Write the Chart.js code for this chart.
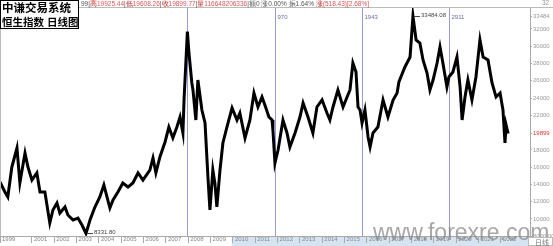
<!DOCTYPE html>
<html><head><meta charset="utf-8">
<script src="https://cdn.jsdelivr.net/npm/chart.js@4/dist/chart.umd.min.js"></script>
<style>html,body{margin:0;padding:0;background:#fff;overflow:hidden}#wrap{position:relative;width:553px;height:246px}</style>
</head><body><div id="wrap"><canvas id="c" width="553" height="246"></canvas></div>
<script>
const dates = [1999.57,1999.79,1999.92,2000.10,2000.33,2000.46,2000.69,2000.82,2001.00,2001.22,2001.36,2001.58,2001.80,2001.94,2002.12,2002.25,2002.48,2002.61,2002.84,2003.06,2003.24,2003.42,2003.60,2003.82,2004.04,2004.22,2004.36,2004.49,2004.63,2004.85,2005.07,2005.30,2005.52,2005.75,2005.97,2006.28,2006.42,2006.55,2006.73,2006.96,2007.13,2007.31,2007.49,2007.63,2007.76,2007.81,2007.96,2008.03,2008.16,2008.21,2008.34,2008.43,2008.61,2008.75,2008.88,2008.97,2009.10,2009.19,2009.28,2009.42,2009.55,2009.73,2009.96,2010.18,2010.31,2010.54,2010.76,2010.94,2011.12,2011.30,2011.43,2011.61,2011.75,2011.79,2011.88,2012.02,2012.24,2012.42,2012.55,2012.78,2013.00,2013.14,2013.36,2013.58,2013.76,2013.99,2014.21,2014.34,2014.48,2014.70,2014.93,2015.11,2015.24,2015.37,2015.51,2015.60,2015.69,2015.78,2015.91,2016.05,2016.14,2016.27,2016.49,2016.72,2016.94,2017.17,2017.35,2017.43,2017.70,2017.93,2018.06,2018.20,2018.37,2018.51,2018.69,2018.82,2018.96,2019.14,2019.27,2019.40,2019.58,2019.67,2019.85,2020.03,2020.17,2020.26,2020.39,2020.52,2020.70,2020.88,2021.06,2021.20,2021.42,2021.60,2021.78,2021.96,2022.09,2022.18,2022.23,2022.32];
const closes = [14280,13130,12550,16020,18220,14170,17640,16020,14510,15330,13130,13130,9540,11040,11850,10690,11390,10460,9880,10110,9300,8331.8,9880,11390,12550,13940,12550,11270,12200,13130,14170,13700,14170,15330,14510,15670,17060,15330,17180,18920,20650,19380,20650,21810,19960,23780,31700,29220,25750,24940,21460,26090,22620,21120,14860,11040,15670,14170,11390,15670,18800,20650,22850,21460,22270,19380,21460,24590,22970,24130,23200,21810,21460,20300,16480,17990,21460,19960,18340,19960,21810,23430,21810,19960,22970,23780,22270,21460,22970,24940,22970,24130,24940,28060,27020,22970,22620,21120,22620,19490,18340,19960,20650,23780,21810,23780,24590,25860,27600,28760,33484,30730,30380,28410,26900,24940,26090,28060,29920,28060,25280,26440,27020,28760,25280,21460,24130,26090,23780,26440,30730,28760,28410,25750,24130,24590,22620,18800,20880,19899.77];
const yearTicks = [1999.57,2001,2002,2003,2004,2005,2006,2007,2008,2009,2010,2011,2012,2013,2014,2015,2016,2017,2018,2019,2020,2021,2022];
const yearLabels = ['1999','2001','2002','2003','2004','2005','2006','2007','2008','2009','2010','2011','2012','2013','2014','2015','2016','2017','2018','2019','2020','2021','2022'];
const priceTicks = [8030,10000,12000,14000,16000,18000,19899.77,22000,24000,26000,28000,30000,32000,33484];
const priceLabels = ['8030.00','10000','12000','14000','16000','18000','19899','22000','24000','26000','28000','30000','32000','33484'];
const markerDates = [2007.96,2011.88,2015.79,2019.69];
const markerLabels = ['','970','1943','2911'];
const highLabel = {x:2018.06, y:33484, text:'33484.08'};
const lowLabel = {x:2003.42, y:8331.8, text:'8331.80'};
const headerParts = [['99|','#555'],['高','#b22'],['19925.44','#d55'],['|','#555'],['低','#b22'],['19608.26','#d55'],['|','#555'],['收','#b22'],['19899.77','#d55'],['|','#555'],['量','#b22'],['116648206336','#d55'],['|','#555'],['额0 ','#555'],['涨0.00% ','#555'],['振1.64% ','#555'],['涨','#b22'],['(518.43)[2.68%]','#d55']];

const deco = {
  id:'deco',
  beforeDraw(chart){
    const c = chart.ctx, a = chart.chartArea, x = chart.scales.x;
    c.save();
    c.fillStyle = '#fff'; c.fillRect(0,0,553,246);
    c.fillStyle = '#d6e4f2';
    c.fillRect(x.getPixelForValue(2009.95), a.bottom+1, 528 - x.getPixelForValue(2009.95), 9);
    c.restore();
  },
  beforeDatasetsDraw(chart){
    const c = chart.ctx, a = chart.chartArea, x = chart.scales.x;
    c.save();
    c.strokeStyle = '#9a9ad0'; c.lineWidth = 1;
    c.font = '6px "Liberation Sans"'; c.fillStyle = '#6a6aa8'; c.textBaseline='middle';
    markerDates.forEach((d,i)=>{
      const px = Math.round(x.getPixelForValue(d))+0.5;
      c.beginPath(); c.moveTo(px, a.top); c.lineTo(px, a.bottom); c.stroke();
      if (markerLabels[i]) c.fillText(markerLabels[i], px+2, 17);
    });
    c.restore();
  },
  afterDraw(chart){
    const c = chart.ctx, a = chart.chartArea, x = chart.scales.x, y = chart.scales.y;
    c.save();
    c.strokeStyle = '#bbb'; c.lineWidth = 1;
    c.beginPath(); c.moveTo(0, a.top-0.5); c.lineTo(553, a.top-0.5); c.stroke();
    c.beginPath(); c.moveTo(0.5, 0); c.lineTo(0.5, a.bottom); c.stroke();
    c.font = '6.5px "Liberation Sans"'; c.textBaseline = 'middle';
    let hx = 81;
    headerParts.forEach(p=>{ c.fillStyle = p[1]; c.fillText(p[0], hx, 4); hx += c.measureText(p[0]).width; });
    c.fillStyle = '#999'; c.fillText('32', 542, 3);
    c.fillStyle = '#fff'; c.fillRect(0,0,79,29);
    c.strokeStyle = '#000'; c.strokeRect(0.5,0.5,78,28);
    c.fillStyle = '#000'; c.textBaseline='middle';
    c.font = 'bold 11.5px "Noto Sans CJK SC"';
    c.fillText('中谦交易系统', 2, 8);
    c.font = 'bold 10.5px "Noto Sans CJK SC"';
    c.fillText('恒生指数', 2, 22);
    c.fillText('日线图', 47, 22);
    c.font = '6px "Liberation Sans"'; c.fillStyle = '#444'; c.strokeStyle = '#444';
    [highLabel, lowLabel].forEach(l=>{
      const px = x.getPixelForValue(l.x), py = Math.round(y.getPixelForValue(l.y))+0.5;
      c.beginPath(); c.moveTo(px+1, py); c.lineTo(px+7, py); c.stroke();
      c.fillText(l.text, px+8, py-1);
    });
    c.font = '23px "Liberation Sans"'; c.fillStyle = 'rgba(130,130,130,0.7)'; c.textBaseline='alphabetic';
    c.fillText('www.forexre.com', 373, 240);
    c.fillStyle = '#fff'; c.fillRect(528, 237, 25, 9);
    c.strokeStyle = '#bbb'; c.strokeRect(528.5, 237.5, 24, 8);
    c.fillStyle = '#777'; c.font = '7px "Noto Sans CJK SC"'; c.textBaseline='middle';
    c.fillText('日线', 535, 242);
    c.restore();
  }
};

new Chart(document.getElementById('c'), {
  type:'line',
  data:{datasets:[{data:dates.map((d,i)=>({x:d,y:closes[i]})), borderColor:'#000', borderWidth:3, pointRadius:0, tension:0, fill:false}]},
  options:{
    responsive:false, animation:false, devicePixelRatio:1,
    layout:{padding:{top:8,left:0,right:0,bottom:0}},
    plugins:{legend:{display:false}, tooltip:{enabled:false}},
    scales:{
      x:{type:'linear', position:'bottom', min:1999.57, max:2023.3,
        afterFit:s=>{s.height=10;},
        afterBuildTicks:s=>{s.ticks = yearTicks.map(v=>({value:v}));},
        grid:{drawOnChartArea:false, drawTicks:true, tickLength:7, color:'#aaa'},
        border:{display:true, color:'#aaa'},
        ticks:{autoSkip:false, maxRotation:0, align:'start', labelOffset:2, padding:-7, font:{size:6, family:'Liberation Sans'}, color:'#888',
          callback:(v,i)=>yearLabels[i]}
      },
      y:{type:'linear', position:'right', min:8030, max:34430,
        afterFit:s=>{s.width=23;},
        afterBuildTicks:s=>{s.ticks = priceTicks.map(v=>({value:v}));},
        grid:{drawOnChartArea:false, drawTicks:true, tickLength:2, color:'#aaa'},
        border:{display:true, color:'#aaa'},
        ticks:{autoSkip:false, crossAlign:'near', padding:1, font:{size:6, family:'Liberation Sans'},
          color:c=> (c.index===6 ? '#e03030' : '#999'),
          callback:(v,i)=>priceLabels[i]}
      }
    }
  },
  plugins:[deco]
});
</script></body></html>
